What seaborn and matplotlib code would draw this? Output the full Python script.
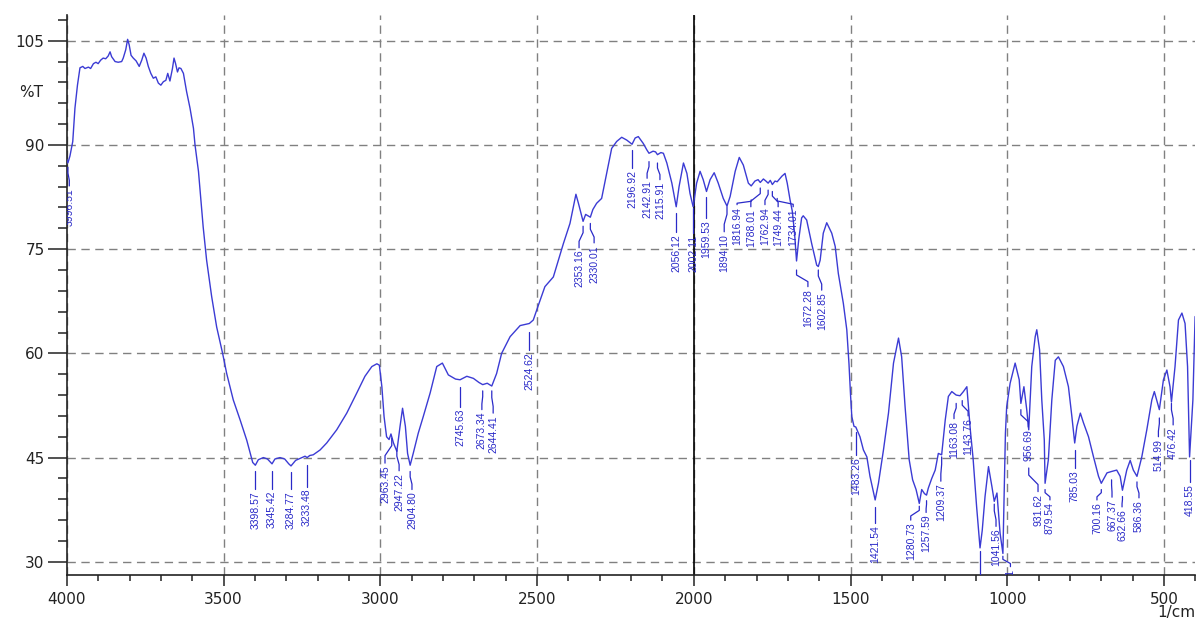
import matplotlib
matplotlib.use("Agg")
import matplotlib.pyplot as plt
from matplotlib.ticker import MultipleLocator
from matplotlib.transforms import blended_transform_factory
import pandas as pd
import seaborn as sns

# FTIR spectrum: wavenumber (1/cm) and transmittance (%T)
wavenumber = [
    4000, 3996.5, 3990, 3981, 3974, 3966, 3958, 3949, 3942, 3931, 3924, 3915,
    3907, 3900, 3892, 3884, 3876, 3868, 3862, 3857, 3846, 3836, 3825, 3820,
    3812, 3806, 3801, 3795, 3788, 3779, 3769, 3761, 3754, 3747, 3740, 3732,
    3724, 3716, 3708, 3700, 3692, 3684, 3678, 3671, 3663, 3658, 3653, 3647,
    3642, 3636, 3628, 3618, 3607, 3596, 3591, 3580, 3572, 3565, 3554, 3538,
    3522, 3503, 3490, 3469, 3447, 3426, 3407, 3398.6, 3389, 3373, 3360, 3345.4,
    3336, 3320, 3305, 3292, 3284.8, 3270, 3250, 3240, 3233.5, 3225, 3214, 3192,
    3171, 3139, 3107, 3075, 3049, 3027, 3011, 3003, 2995, 2988, 2980, 2972,
    2966, 2958, 2947.2, 2937, 2929, 2920, 2913, 2904.8, 2895, 2879, 2863, 2841,
    2820, 2802, 2783, 2760, 2745.6, 2724, 2703, 2685, 2673.3, 2659, 2644.4, 2629,
    2613, 2586, 2554, 2535, 2524.6, 2512, 2496, 2475, 2448, 2432, 2416, 2395,
    2384, 2376, 2368, 2353.2, 2345, 2330.0, 2322, 2310, 2294, 2278, 2262, 2246,
    2230, 2214, 2196.9, 2187, 2177, 2161, 2150, 2142.9, 2130, 2122, 2115.9, 2105,
    2097, 2086, 2070, 2056.1, 2047, 2033, 2022, 2012, 2002.1, 1991, 1980, 1970,
    1959.5, 1948, 1935, 1922, 1906, 1894.1, 1884, 1868, 1855, 1842, 1826, 1816.9,
    1805, 1795, 1788.0, 1778, 1770, 1762.9, 1756, 1749.4, 1741, 1734.0, 1719, 1709,
    1702, 1693, 1686, 1679, 1672.3, 1665, 1656, 1651, 1640, 1624, 1608, 1602.9,
    1597, 1587, 1576, 1560, 1549, 1539, 1523, 1512, 1505, 1500, 1496, 1489,
    1483.3, 1470, 1459, 1448, 1438, 1421.5, 1411, 1395, 1379, 1363, 1347, 1337,
    1326, 1313, 1302, 1291, 1280.7, 1273, 1264, 1257.6, 1252, 1241, 1230, 1220,
    1209.4, 1198, 1188, 1177, 1163.1, 1151, 1143.8, 1140, 1129, 1124, 1118, 1109,
    1098, 1087, 1080, 1071, 1060, 1049, 1041.6, 1033, 1023, 1014, 1006, 1002,
    991, 975, 962, 956.7, 947, 938, 931.6, 922, 911, 906, 897, 890,
    882, 879.5, 869, 858, 847, 837, 821, 805, 794, 785.0, 778, 767,
    757, 741, 725, 709, 700.2, 682, 667.4, 651, 640, 632.7, 619, 608,
    598, 586.4, 571, 555, 539, 531, 515.0, 502, 491, 481, 476.4, 465,
    454, 443, 433, 425, 418.6, 408, 401,
]
transmittance = [
    87.9, 87.4, 88.4, 90.5, 95.3, 98.6, 101.1, 101.3, 101.0, 101.2, 101.0, 101.7,
    101.9, 101.7, 102.2, 102.5, 102.4, 102.8, 103.4, 102.7, 102.0, 101.9, 102.0, 102.5,
    103.7, 105.2, 104.4, 102.9, 102.5, 102.1, 101.3, 102.2, 103.2, 102.5, 101.3, 100.3,
    99.6, 99.8, 98.9, 98.6, 99.1, 99.3, 100.3, 99.2, 101.0, 102.5, 101.7, 100.5,
    101.1, 101.0, 100.3, 97.7, 95.3, 92.4, 90.0, 86.2, 82.0, 78.2, 73.4, 68.2,
    63.8, 60.0, 57.1, 53.3, 50.4, 47.5, 44.3, 43.9, 44.7, 45.0, 44.8, 44.1,
    44.8, 45.0, 44.8, 44.1, 43.8, 44.6, 45.0, 45.2, 45.0, 45.3, 45.4, 46.1,
    47.1, 49.0, 51.4, 54.3, 56.7, 58.1, 58.5, 58.3, 55.2, 50.9, 48.0, 47.6,
    48.4, 47.1, 45.9, 49.5, 52.1, 49.5, 45.6, 43.9, 45.6, 48.5, 50.9, 54.3,
    58.1, 58.6, 56.9, 56.3, 56.2, 56.7, 56.4, 55.8, 55.5, 55.7, 55.3, 57.1,
    60.0, 62.4, 64.0, 64.2, 64.3, 64.8, 66.9, 69.6, 71.0, 73.4, 75.8, 78.7,
    81.1, 82.9, 81.6, 79.0, 80.0, 79.6, 80.7, 81.6, 82.3, 85.9, 89.5, 90.5,
    91.1, 90.7, 90.1, 91.0, 91.2, 90.2, 89.3, 88.8, 89.1, 89.0, 88.6, 88.9,
    88.8, 87.4, 84.5, 81.1, 84.0, 87.4, 85.9, 83.0, 81.1, 84.5, 86.2, 85.0,
    83.3, 85.0, 86.0, 84.5, 82.3, 81.2, 82.6, 86.2, 88.2, 87.1, 84.5, 84.1,
    84.8, 85.0, 84.6, 85.1, 84.8, 84.5, 84.9, 84.3, 84.8, 84.7, 85.5, 85.9,
    84.5, 82.1, 80.5, 77.5, 73.3, 76.5, 79.5, 79.8, 79.2, 75.8, 72.7, 72.5,
    73.4, 77.3, 78.8, 77.3, 75.4, 71.5, 67.2, 63.4, 58.5, 54.0, 50.9, 49.5,
    49.4, 48.0, 46.1, 45.1, 42.3, 38.9, 41.3, 46.1, 51.4, 58.6, 62.2, 59.5,
    52.3, 44.7, 41.8, 40.4, 38.4, 40.4, 39.8, 39.6, 40.6, 42.0, 43.2, 45.6,
    45.4, 50.4, 53.8, 54.5, 54.0, 53.9, 54.3, 54.5, 55.2, 52.3, 49.0, 44.8,
    38.0, 32.0, 34.5, 39.4, 43.7, 40.8, 38.7, 39.9, 34.1, 31.2, 48.5, 52.3,
    55.7, 58.6, 56.2, 52.8, 55.2, 51.9, 49.0, 58.1, 62.4, 63.4, 60.5, 53.3,
    47.5, 41.3, 44.7, 53.3, 59.0, 59.5, 58.1, 55.2, 50.9, 47.1, 49.5, 51.4,
    50.0, 48.0, 45.1, 42.3, 41.3, 42.8, 43.0, 43.2, 42.3, 40.3, 43.2, 44.6,
    43.2, 42.3, 45.1, 49.0, 53.3, 54.5, 51.9, 56.2, 57.6, 55.2, 53.0, 58.1,
    64.8, 65.8, 64.3, 58.1, 45.1, 53.3, 65.3,
]

# Peak picks printed on the spectrum
peak_text = [
    "3996.51", "3398.57", "3345.42", "3284.77", "3233.48", "2963.45", "2947.22",
    "2904.80", "2745.63", "2673.34", "2644.41", "2524.62", "2353.16", "2330.01",
    "2196.92", "2142.91", "2115.91", "2056.12", "2002.11", "1959.53", "1894.10",
    "1816.94", "1788.01", "1762.94", "1749.44", "1734.01", "1672.28", "1602.85",
    "1483.26", "1421.54", "1280.73", "1257.59", "1209.37", "1163.08", "1143.76",
    "1041.56", "1014.11", "956.69", "931.62", "879.54", "785.03", "700.16",
    "667.37", "632.66", "586.36", "514.99", "476.42", "418.55",
]
peak_wn = [float(t) for t in peak_text]

# Label layout: text column position (1/cm), leader start and text top (%T)
label_x = [
    3992, 3398.57, 3345.42, 3284.77, 3233.48, 2985, 2940,
    2899, 2745.63, 2676, 2640, 2524.62, 2366, 2318,
    2196.92, 2149, 2108, 2056.12, 2002.11, 1959.53, 1903,
    1862, 1818, 1773, 1731, 1683, 1636, 1592,
    1483.26, 1421.54, 1308, 1259, 1212, 1170, 1125,
    1036, 990, 933, 902, 864, 785.03, 714,
    666, 634, 580, 518, 471, 418.55,
]
label_y0 = [
    86.8, 43.0, 43.0, 42.9, 43.9, 47.8, 46.1,
    43.0, 55.2, 54.6, 54.6, 63.1, 78.3, 78.7,
    89.3, 87.6, 87.4, 80.2, 80.9, 82.5, 81.1,
    82.1, 83.8, 83.5, 83.3, 82.3, 72.0, 72.0,
    48.7, 37.9, 38.0, 38.8, 45.1, 52.8, 53.2,
    38.3, 30.8, 51.9, 43.5, 40.4, 46.1, 40.4,
    41.8, 39.4, 41.5, 50.7, 52.8, 44.7,
]
label_y1 = [
    84.1, 40.5, 40.5, 40.5, 40.8, 44.2, 43.1,
    40.4, 52.3, 51.9, 51.4, 60.5, 75.2, 75.9,
    86.7, 85.2, 85.0, 77.5, 77.3, 79.5, 77.5,
    81.4, 81.1, 81.4, 81.1, 81.1, 69.6, 69.1,
    45.4, 35.6, 36.0, 37.1, 41.6, 50.6, 51.0,
    35.1, 29.3, 49.4, 40.1, 38.9, 43.5, 38.9,
    39.3, 37.9, 39.2, 48.0, 49.7, 41.5,
]

curve_blue = "#3b3bd4"
label_blue = "#2a2ac8"

sns.set_style("ticks")
plt.rcParams["font.family"] = ["DejaVu Sans"]

fig = plt.figure(figsize=(11.98, 6.19), dpi=100)
ax = fig.add_axes([0.05576, 0.07108, 0.94207, 0.90468])

spectrum = pd.DataFrame({"wavenumber": wavenumber, "T": transmittance})
sns.lineplot(data=spectrum, x="wavenumber", y="T", sort=False, estimator=None,
             color=curve_blue, linewidth=1.0, ax=ax, zorder=3)

ax.set_xlim(4000, 400)
ax.set_ylim(28.1, 108.7)

ax.set_xticks(range(500, 4001, 500))
ax.xaxis.set_minor_locator(MultipleLocator(100))
ax.set_yticks(range(30, 106, 15))
ax.yaxis.set_minor_locator(MultipleLocator(3))

ax.tick_params(axis="x", which="major", length=8, width=1.1, pad=4,
               labelsize=11, colors="#222222")
ax.tick_params(axis="x", which="minor", length=4.3, width=1.1, colors="#222222")
ax.tick_params(axis="y", which="major", length=13.5, width=1.1, pad=2.5,
               labelsize=11, colors="#222222")
ax.tick_params(axis="y", which="minor", length=6.7, width=1.1, colors="#222222")

ax.grid(True, which="major", linestyle=(0, (6, 4)), color="#808080",
        linewidth=1.0, zorder=1)
ax.axvline(2000, color="black", linewidth=1.2, zorder=2)

for side in ("top", "right"):
    ax.spines[side].set_visible(False)
for side in ("left", "bottom"):
    ax.spines[side].set_color("#222222")
    ax.spines[side].set_linewidth(1.2)

ax.set_xlabel("")
ax.set_ylabel("")

yt = blended_transform_factory(ax.transAxes, ax.transData)
ax.text(-0.0211, 97.5, "%T", transform=yt, ha="right", va="center",
        fontsize=11, color="#222222")
fig.text(1195 / 1198, 1 - 613 / 619, "1/cm", ha="right", va="center",
         fontsize=11, color="#222222")

# Peak-pick leaders and rotated labels
for txt, wn, tx, y0, y1 in zip(peak_text, peak_wn, label_x, label_y0, label_y1):
    span = y0 - y1
    xs = [wn, wn, tx, tx]
    ys = [y0, y0 - 0.3 * span, y0 - 0.7 * span, y1]
    ax.plot(xs, ys, color=label_blue, linewidth=0.9, zorder=4, clip_on=True)
    ax.text(tx, y1 - 0.3, txt, rotation=90, ha="center", va="top",
            fontsize=7.5, family="Liberation Sans", color=label_blue,
            clip_on=True, zorder=4)

# Leader of the strongest band, whose label falls below the frame
ax.plot([1087, 1087], [31.5, 28.1], color=label_blue, linewidth=0.9, zorder=4)

fig.savefig("out.png", dpi=100)
